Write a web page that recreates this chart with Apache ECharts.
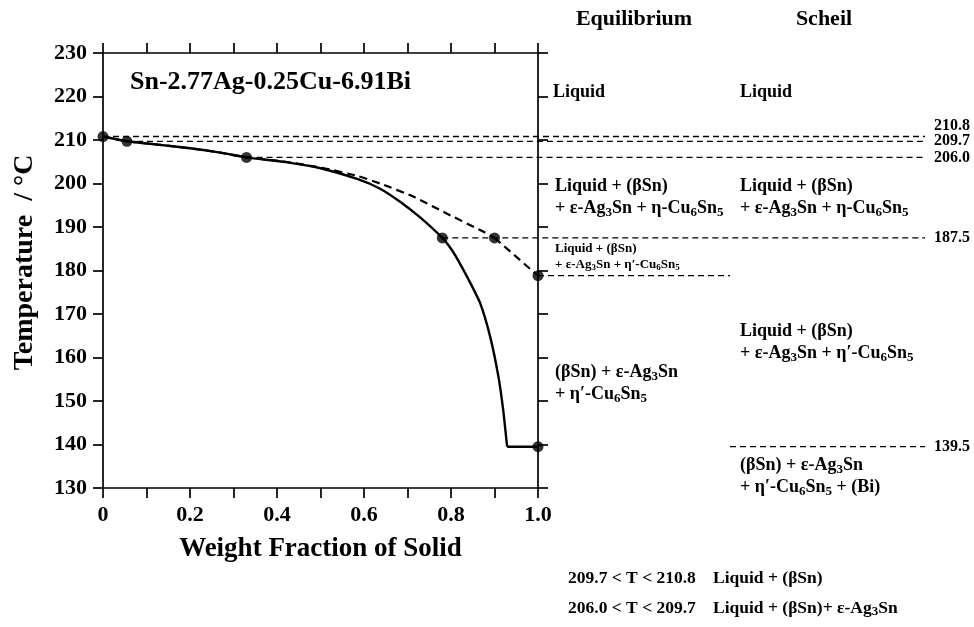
<!DOCTYPE html>
<html>
<head>
<meta charset="utf-8">
<script src="https://cdn.jsdelivr.net/npm/echarts@6/dist/echarts.min.js"></script>
<style>
  html, body { margin: 0; padding: 0; background: #fff; }
  #chart { width: 974px; height: 627px; }
</style>
</head>
<body>
<div id="chart"></div>
<script>
// Solidification paths of Sn-2.77Ag-0.25Cu-6.91Bi: weight fraction of solid vs temperature
const eqFrac  = [0, 0.055, 0.12, 0.2, 0.27, 0.33, 0.42, 0.5, 0.586, 0.637, 0.683, 0.729, 0.78, 0.80, 0.816, 0.84, 0.867, 0.89, 0.909, 0.92, 0.929, 1.0];
const eqTemp  = [210.8, 209.7, 209.0, 208.1, 207.1, 206.0, 204.9, 203.5, 201.0, 198.8, 195.8, 192.2, 187.5, 185.0, 182.4, 178.0, 172.5, 164.8, 155.6, 147.9, 139.5, 139.5];

const schFrac = [0, 0.055, 0.12, 0.2, 0.27, 0.33, 0.42, 0.504, 0.586, 0.637, 0.713, 0.79, 0.867, 0.9, 1.0];
const schTemp = [210.8, 209.7, 209.0, 208.1, 207.1, 206.0, 205.0, 203.6, 201.7, 200.0, 197.0, 193.1, 189.3, 187.5, 178.8];

// Calculated transition points
const eqPtFrac  = [0, 0.055, 0.33, 0.78, 1.0];
const eqPtTemp  = [210.8, 209.7, 206.0, 187.5, 139.5];
const schPtFrac = [0.9, 1.0];
const schPtTemp = [187.5, 178.8];

// Transition temperatures shown on the right
const transTemps = [210.8, 209.7, 206.0, 187.5, 178.8, 139.5];

const xTickLabels = ['0', '0.2', '0.4', '0.6', '0.8', '1.0'];

const FONT = "'Liberation Serif','Times New Roman',serif";
const BLACK = '#000';

const zip = (a, b) => a.map((v, i) => [v, b[i]]);
const eqPts = zip(eqFrac, eqTemp);
const schPts = zip(schFrac, schTemp);

const chart = echarts.init(document.getElementById('chart'), null, { renderer: 'canvas' });

const axisLine = { show: true, onZero: false, lineStyle: { color: BLACK, width: 1.7 } };
const axisTick = { show: true, inside: false, length: 10, lineStyle: { color: BLACK, width: 1.7 } };
const labelFont = { color: BLACK, fontFamily: FONT, fontWeight: 'bold', fontSize: 22 };

const solidStyle = { color: BLACK, width: 2.4, type: 'solid' };
const dashStyle = { color: BLACK, width: 2.2, type: [8, 5] };

chart.setOption({
  animation: false,
  backgroundColor: '#fff',
  grid: { left: 103, right: 436, top: 53, bottom: 139, containLabel: false },
  xAxis: [
    {
      type: 'value', min: 0, max: 1, interval: 0.1, position: 'bottom',
      axisLine, axisTick, splitLine: { show: false },
      axisLabel: Object.assign({}, labelFont, {
        margin: 16,
        formatter: v => {
          const k = Math.round(v * 10);
          return k % 2 === 0 ? xTickLabels[k / 2] : '';
        }
      }),
      name: 'Weight Fraction of Solid', nameLocation: 'middle', nameGap: 48,
      nameTextStyle: { color: BLACK, fontFamily: FONT, fontWeight: 'bold', fontSize: 27 }
    },
    {
      type: 'value', min: 0, max: 1, interval: 0.1, position: 'top',
      axisLine, axisTick, splitLine: { show: false }, axisLabel: { show: false }
    }
  ],
  yAxis: [
    {
      type: 'value', min: 130, max: 230, interval: 10, position: 'left',
      axisLine, axisTick, splitLine: { show: false },
      axisLabel: Object.assign({}, labelFont, { margin: 16 })
    },
    {
      type: 'value', min: 130, max: 230, interval: 10, position: 'right',
      axisLine, axisTick, splitLine: { show: false }, axisLabel: { show: false }
    }
  ],
  series: [
    // equilibrium path: smooth solidification curve, then the flat eutectic step
    {
      name: 'Equilibrium', type: 'line', data: eqPts.slice(0, -1),
      showSymbol: false, smooth: 0.2, z: 3,
      lineStyle: solidStyle
    },
    {
      name: 'Equilibrium', type: 'line', data: eqPts.slice(-2),
      showSymbol: false, z: 3, lineStyle: solidStyle
    },
    // Scheil path: smooth up to the η′ transition, then straight to the end
    {
      name: 'Scheil', type: 'line', data: schPts.slice(0, -1),
      showSymbol: false, smooth: 0.2, z: 3,
      lineStyle: dashStyle
    },
    {
      name: 'Scheil', type: 'line', data: schPts.slice(-2),
      showSymbol: false, z: 3, lineStyle: dashStyle
    },
    {
      name: 'Equilibrium points', type: 'scatter', data: zip(eqPtFrac, eqPtTemp),
      symbol: 'circle', symbolSize: 11, z: 5,
      itemStyle: { color: BLACK }
    },
    {
      name: 'Scheil points', type: 'scatter', data: zip(schPtFrac, schPtTemp),
      symbol: 'circle', symbolSize: 11, z: 5,
      itemStyle: { color: BLACK }
    }
  ]
});

// ---- overlays: dashed isotherms and phase annotations ----
const px = (x, t) => chart.convertToPixel({ gridIndex: 0 }, [x, t]);
const RIGHT_END = 925;   // dashed isotherms run out to the value column
const MID_X = 730;       // split between the two columns

const dash = (x1, y1, x2, y2) => ({
  type: 'line', z: 2, silent: true,
  shape: { x1, y1, x2, y2 },
  style: { stroke: BLACK, lineWidth: 1.3, lineDash: [6, 4] }
});

const graphics = [];
// isotherm starts: where each temperature is reached on the curves
const startFrac = [0, 0.055, 0.33, 0.78, 1.0, null];
transTemps.forEach((t, i) => {
  const y = px(0, t)[1];
  if (t === 178.8) {
    graphics.push(dash(px(1, t)[0], y, MID_X, y));
  } else if (t === 139.5) {
    graphics.push(dash(MID_X, y, RIGHT_END, y));
  } else {
    graphics.push(dash(px(startFrac[i], t)[0], y, RIGHT_END, y));
  }
});

// value labels at the right end of the isotherms
const valueLabelY = { '210.8': -11, '209.7': 0, '206.0': 0, '187.5': 0, '139.5': 0 };
transTemps.forEach(t => {
  const key = t.toFixed(1);
  if (!(key in valueLabelY)) return;
  const y = px(0, t)[1] + valueLabelY[key];
  graphics.push({
    type: 'text', z: 4, silent: true,
    style: {
      text: key, x: 934, y, textVerticalAlign: 'middle',
      fontFamily: FONT, fontWeight: 'bold', fontSize: 16, fill: BLACK
    }
  });
});

// chemical formula text: "_n" becomes a subscript
function chem(str, x, y, size, align) {
  const text = str.replace(/_(\d)/g, '{s|$1}');
  return {
    type: 'text', z: 4, silent: true,
    style: {
      text, x, y,
      textAlign: align || 'left', textVerticalAlign: 'top',
      fontFamily: FONT, fontWeight: 'bold', fontSize: size, fill: BLACK,
      lineHeight: Math.round(size * 1.15),
      rich: {
        s: {
          fontFamily: FONT, fontWeight: 'bold', fontSize: Math.round(size * 0.72),
          fill: BLACK, lineHeight: Math.round(size * 0.72), verticalAlign: 'bottom'
        }
      }
    }
  };
}

// rotated y-axis title
const axMidY = (px(0, 230)[1] + px(0, 130)[1]) / 2;
graphics.push({
  type: 'text', z: 4, silent: true,
  x: 25, y: axMidY - 8, rotation: Math.PI / 2,
  style: {
    text: 'Temperature  / \u00B0C', textAlign: 'center', textVerticalAlign: 'middle',
    fontFamily: FONT, fontWeight: 'bold', fontSize: 28, fill: BLACK
  }
});

const EQ_X = 553, SCH_X = 740, F = 18;
graphics.push(
  chem('Equilibrium', 634, 7, 22, 'center'),
  chem('Scheil', 824, 7, 22, 'center'),

  chem('Liquid', EQ_X, 82, F),
  chem('Liquid', SCH_X, 82, F),

  chem('Liquid + (\u03B2Sn)', EQ_X + 2, 176, F),
  chem('+ \u03B5-Ag_3Sn + \u03B7-Cu_6Sn_5', EQ_X + 2, 198, F),
  chem('Liquid + (\u03B2Sn)', SCH_X, 176, F),
  chem('+ \u03B5-Ag_3Sn + \u03B7-Cu_6Sn_5', SCH_X, 198, F),

  chem('Liquid + (\u03B2Sn)', EQ_X + 2, 241, 13),
  chem('+ \u03B5-Ag_3Sn + \u03B7\u2032-Cu_6Sn_5', EQ_X + 2, 257, 13),

  chem('Liquid + (\u03B2Sn)', SCH_X, 321, F),
  chem('+ \u03B5-Ag_3Sn + \u03B7\u2032-Cu_6Sn_5', SCH_X, 343, F),

  chem('(\u03B2Sn) + \u03B5-Ag_3Sn', EQ_X + 2, 362, F),
  chem('+ \u03B7\u2032-Cu_6Sn_5', EQ_X + 2, 384, F),

  chem('(\u03B2Sn) + \u03B5-Ag_3Sn', SCH_X, 455, F),
  chem('+ \u03B7\u2032-Cu_6Sn_5 + (Bi)', SCH_X, 477, F),

  chem(transTemps[1].toFixed(1) + ' < T < ' + transTemps[0].toFixed(1), 568, 568, 17.5),
  chem('Liquid + (\u03B2Sn)', 713, 568, 17.5),
  chem(transTemps[2].toFixed(1) + ' < T < ' + transTemps[1].toFixed(1), 568, 598, 17.5),
  chem('Liquid + (\u03B2Sn)+ \u03B5-Ag_3Sn', 713, 598, 17.5),

  chem('Sn-2.77Ag-0.25Cu-6.91Bi', 130, 67, 26)
);

chart.setOption({ graphic: graphics });
</script>
</body>
</html>
